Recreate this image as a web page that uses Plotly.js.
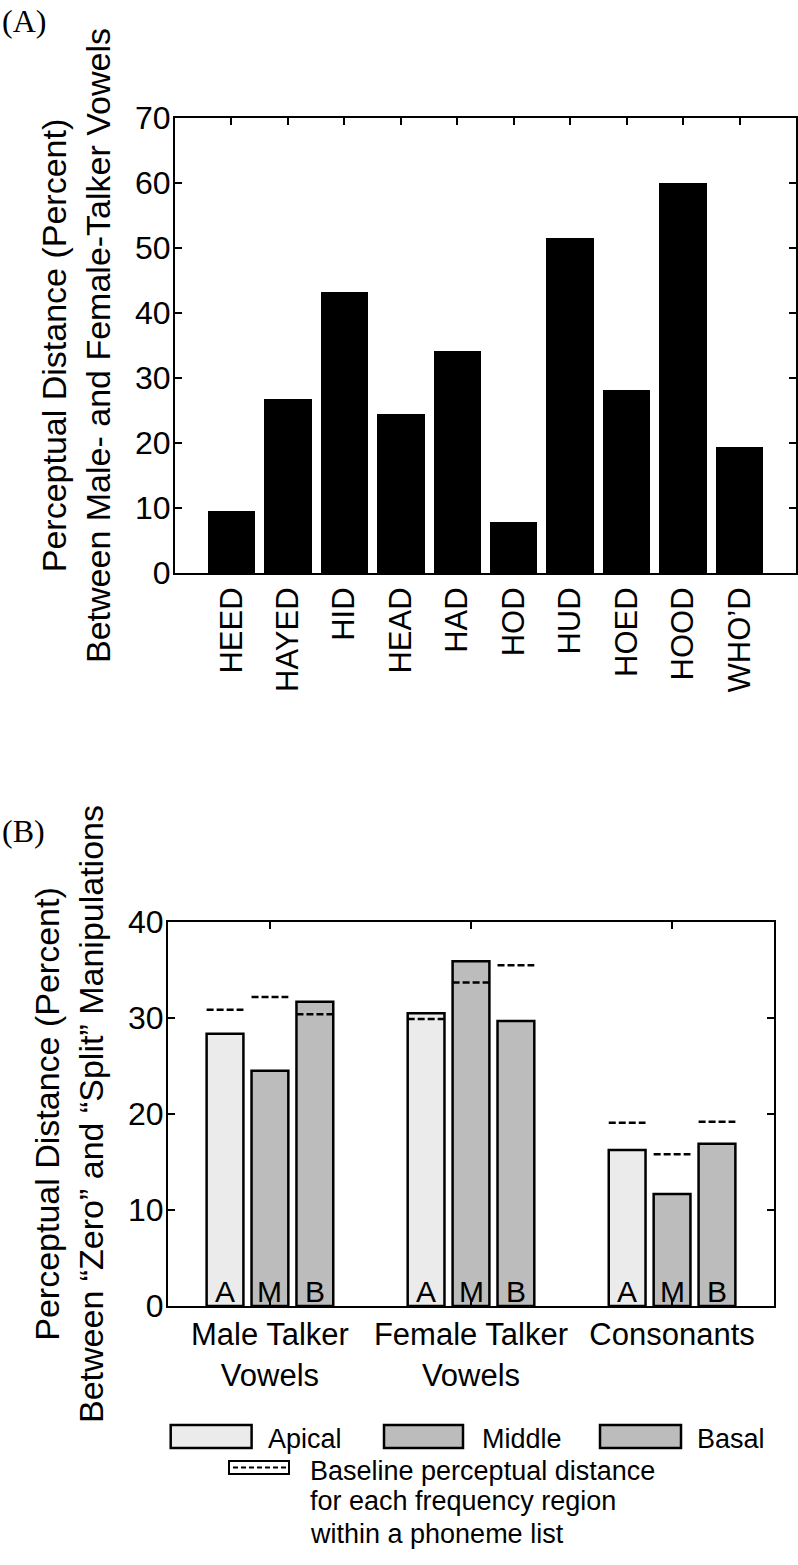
<!DOCTYPE html>
<html><head><meta charset="utf-8">
<script src="https://cdn.plot.ly/plotly-3.0.1.min.js"></script>
<style>html,body{margin:0;padding:0;background:#fff}</style>
</head><body><div id="chart" style="width:798px;height:1565px"></div>
<script>
// ---- Data ----
const vowels = ['HEED','HAYED','HID','HEAD','HAD','HOD','HUD','HOED','HOOD','WHO\u2019D'];
const vowelDistance = [9.6, 26.8, 43.2, 24.4, 34.2, 7.9, 51.6, 28.1, 60.0, 19.4];

const phonemeLists = ['Male Talker<br>Vowels', 'Female Talker<br>Vowels', 'Consonants'];
const regionNames = ['Apical', 'Middle', 'Basal'];
const regionLetters = ['A', 'M', 'B'];
const apical = [28.35, 30.5, 16.25];
const middle = [24.5, 35.9, 11.67];
const basal = [31.7, 29.7, 16.9];
const apicalBaseline = [30.85, 29.9, 19.1];
const middleBaseline = [32.2, 33.7, 15.8];
const basalBaseline = [30.4, 35.5, 19.2];
const yTicksA = [0, 10, 20, 30, 40, 50, 60, 70];
const yTicksB = [0, 10, 20, 30, 40];
const noteLines = ['Baseline perceptual distance', 'for each frequency region', 'within a phoneme list'];

// ---- Layout helpers ----
const W = 798, H = 1565;
const px = x => x / W, py = y => 1 - y / H;
const SANS = 'Liberation Sans, Arial, sans-serif';
const SERIF = 'Liberation Serif, Times New Roman, serif';
const fills = ['#ebebeb', '#bcbcbc', '#bcbcbc'];
const offsets = [-0.2234, 0, 0.2234];
const bw = 0.183;

const traces = [];
traces.push({type:'bar', x:vowels, y:vowelDistance, xaxis:'x', yaxis:'y', width:0.84,
  marker:{color:'#000', line:{width:0}}, showlegend:false});

const series = [apical, middle, basal];
const bases = [apicalBaseline, middleBaseline, basalBaseline];
series.forEach((vals, k) => {
  traces.push({type:'bar', name:regionNames[k], x:vals.map((_, i) => i + offsets[k]), y:vals,
    width:bw, xaxis:'x2', yaxis:'y2', showlegend:false,
    marker:{color:fills[k], line:{color:'#000', width:2.5}}});
});
bases.forEach((vals, k) => {
  const xs = [], ys = [];
  vals.forEach((v, i) => { const c = i + offsets[k]; xs.push(c - bw/2, c + bw/2, null); ys.push(v, v, null); });
  traces.push({type:'scatter', mode:'lines', x:xs, y:ys, xaxis:'x2', yaxis:'y2', showlegend:false,
    name:regionNames[k] + ' baseline', line:{color:'#000', width:2.5, dash:'7px,3px'}});
});

const annotations = [];
series.forEach((vals, k) => vals.forEach((v, i) => annotations.push({
  xref:'x2', yref:'y2', x:i + offsets[k], y:0, text:regionLetters[k], showarrow:false,
  yanchor:'bottom', yshift:-4, font:{family:SANS, size:30, color:'#000'}})));

annotations.push({xref:'paper', yref:'paper', x:px(0), y:py(21), xanchor:'left', yanchor:'middle',
  text:'(A)', showarrow:false, font:{family:SERIF, size:32, color:'#000'}});
annotations.push({xref:'paper', yref:'paper', x:px(0), y:py(831), xanchor:'left', yanchor:'middle',
  text:'(B)', showarrow:false, font:{family:SERIF, size:32, color:'#000'}});

const shapes = [];
const legBoxes = [[170.7, 251.6], [384, 463], [600, 681]];
const legText = [266, 480, 695];
regionNames.forEach((n, k) => {
  shapes.push({type:'rect', xref:'paper', yref:'paper', x0:px(legBoxes[k][0]), x1:px(legBoxes[k][1]),
    y0:py(1448), y1:py(1425), fillcolor:fills[k], line:{color:'#000', width:2.5}});
  annotations.push({xref:'paper', yref:'paper', x:px(legText[k]), y:py(1438.6), xanchor:'left', yanchor:'middle',
    text:n, showarrow:false, font:{family:SANS, size:27, color:'#000'}});
});
shapes.push({type:'rect', xref:'paper', yref:'paper', x0:px(229), x1:px(289), y0:py(1474), y1:py(1461),
  fillcolor:'#fff', line:{color:'#000', width:2}});
shapes.push({type:'line', xref:'paper', yref:'paper', x0:px(233), x1:px(286), y0:py(1467.5), y1:py(1467.5),
  line:{color:'#000', width:2, dash:'5px,3px'}});
const noteY = [1470.6, 1500.6, 1533.6];
noteLines.forEach((t, j) => annotations.push({xref:'paper', yref:'paper', x:px(308), y:py(noteY[j]),
  xanchor:'left', yanchor:'middle', text:t, showarrow:false, font:{family:SANS, size:27, color:'#000'}}));

const axBase = {showline:true, linecolor:'#000', linewidth:2, mirror:'ticks', ticks:'inside',
  ticklen:7, tickwidth:2, tickcolor:'#000', showgrid:false, zeroline:false, fixedrange:true};

const layout = {
  width:W, height:H, autosize:false, margin:{l:0, r:0, t:0, b:0},
  paper_bgcolor:'#fff', plot_bgcolor:'#fff', showlegend:false, bargap:0,
  font:{family:SANS, color:'#000'},
  xaxis: Object.assign({}, axBase, {domain:[px(175), px(796)], anchor:'y', type:'category',
    range:[-1, 10], tickangle:-90, tickfont:{family:SANS, size:31, color:'#000'}}),
  yaxis: Object.assign({}, axBase, {domain:[py(573), py(118)], anchor:'x', range:[0, 70],
    tickvals:yTicksA, ticklabelstandoff:-4, tickfont:{family:SANS, size:32, color:'#000'},
    title:{text:'Perceptual Distance (Percent)<br>Between Male- and Female-Talker Vowels',
      font:{family:SANS, size:34, color:'#000'}, standoff:14}}),
  xaxis2: Object.assign({}, axBase, {domain:[px(168), px(774)], anchor:'y2', range:[-0.507, 2.507],
    tickvals:[0, 1, 2], ticktext:phonemeLists, tickangle:0, tickfont:{family:SANS, size:31, color:'#000'}}),
  yaxis2: Object.assign({}, axBase, {domain:[py(1306), py(922)], anchor:'x2', range:[0, 40],
    tickvals:yTicksB, ticklabelstandoff:-4, tickfont:{family:SANS, size:32, color:'#000'},
    title:{text:'Perceptual Distance (Percent)<br>Between \u201cZero\u201d and \u201cSplit\u201d Manipulations',
      font:{family:SANS, size:34, color:'#000'}, standoff:14}}),
  annotations, shapes
};

Plotly.newPlot('chart', traces, layout, {staticPlot:true, displayModeBar:false});
</script></body></html>
